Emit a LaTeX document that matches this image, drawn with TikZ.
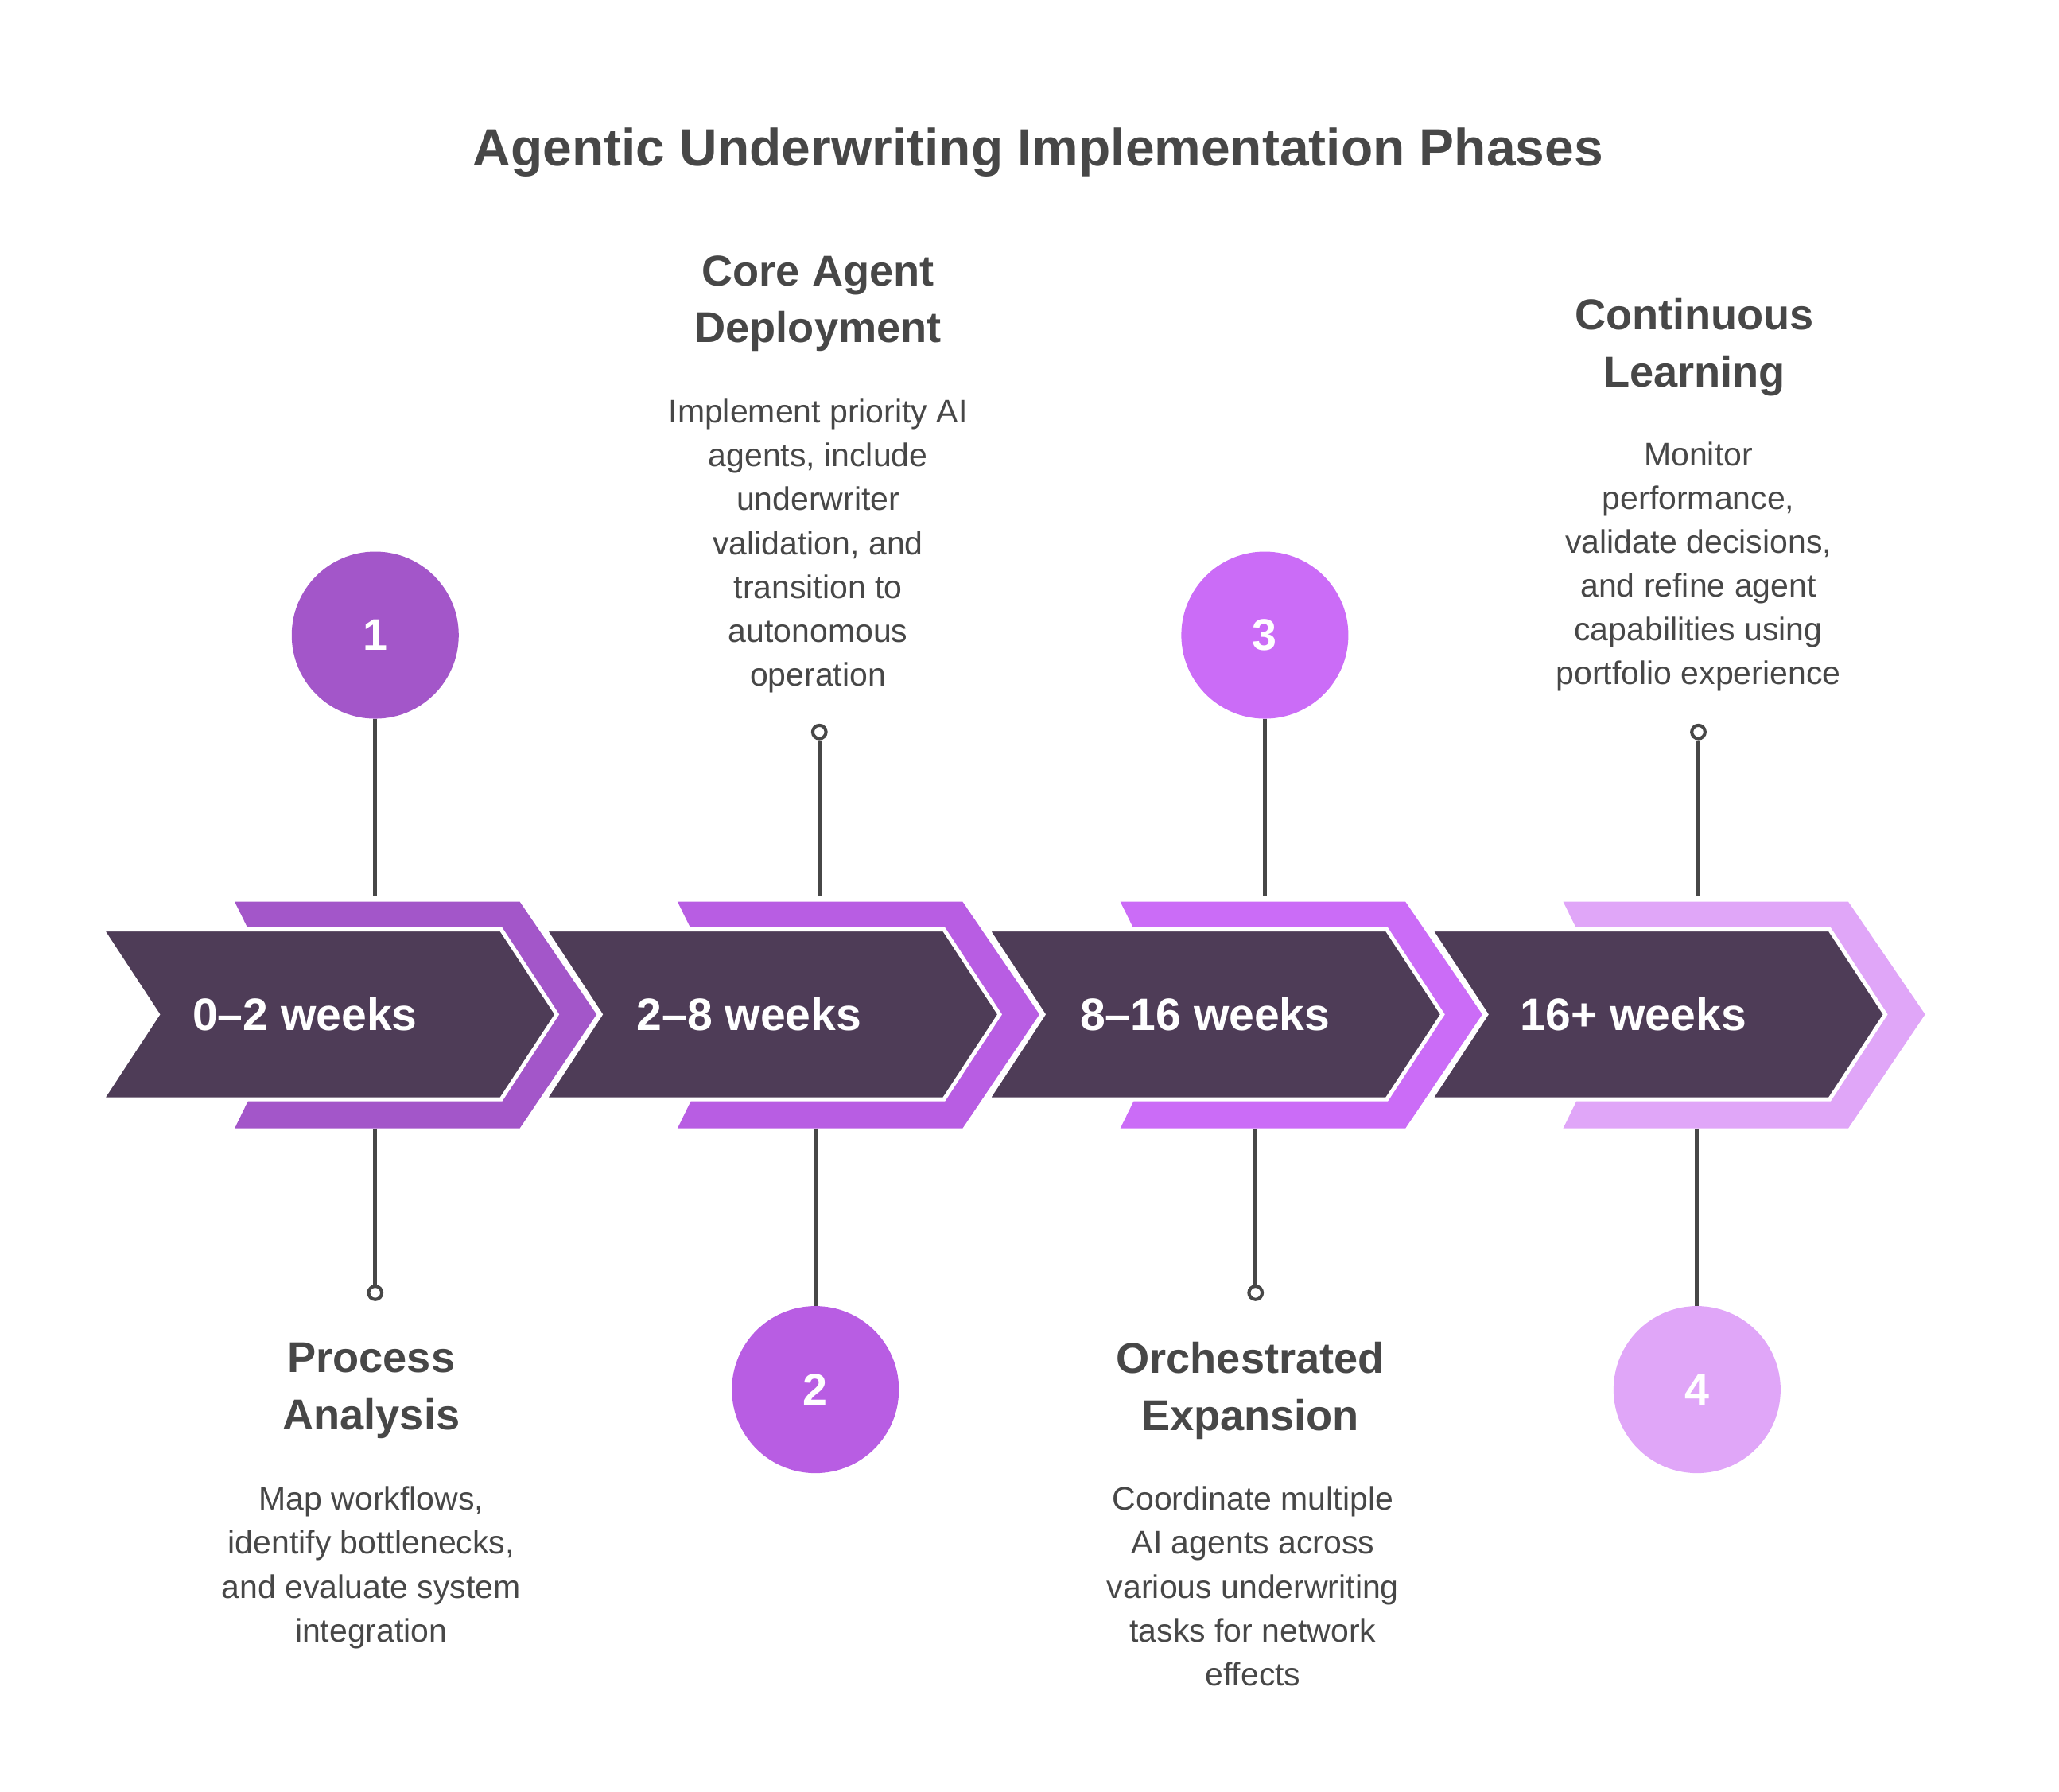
\documentclass[tikz,border=0pt]{standalone}
\usepackage{fontspec}
\setmainfont{Liberation Sans}
\usetikzlibrary{positioning}
\definecolor{pOne}{HTML}{A356C9}
\definecolor{pTwo}{HTML}{B85DE3}
\definecolor{pThree}{HTML}{CB6CF7}
\definecolor{pFour}{HTML}{E0A6F8}
\definecolor{band}{HTML}{4E3C57}
\definecolor{ink}{HTML}{474747}
\begin{document}
\begin{tikzpicture}[x=0.02cm,y=-0.02cm,
		num/.style={circle,minimum size=126*0.02cm,inner sep=0pt,text=white,font=\fontsize{19}{19}\selectfont\bfseries},
		dot/.style={circle,draw=ink,line width=1.4pt,fill=white,minimum size=0.2cm,inner sep=0pt},
		stem/.style={draw=ink,line width=1.7pt},
		head/.style={text=ink,align=center,font=\fontsize{18.5}{24.5}\selectfont\bfseries},
		desc/.style={text=ink,align=center,font=\fontsize{14}{18.8}\selectfont},
		weeks/.style={text=white,font=\fontsize{19.5}{19.5}\selectfont\bfseries}]
		\useasboundingbox (0,0) rectangle (1553,1351);
		\node[text=ink,font=\fontsize{22.5}{22.5}\selectfont\bfseries] (title) at (783,115) {Agentic Underwriting Implementation Phases};
		% coloured chevrons behind
		\foreach \i/\c in {0/pOne,1/pTwo,2/pThree,3/pFour}
			\fill[\c] ({177+334*\i},680) -- ({392+334*\i},680) -- ({450+334*\i},765) -- ({392+334*\i},851)
				-- ({177+334*\i},851) -- ({219+334*\i},765) -- cycle;
		% dark chevrons
		\foreach \i in {0,1,2,3}
			\filldraw[fill=band,draw=white,line width=1.7pt] ({77+334*\i},701) -- ({378+334*\i},701) -- ({420+334*\i},765)
				-- ({378+334*\i},829) -- ({77+334*\i},829) -- ({119+334*\i},765) -- cycle;
		\node[weeks] (wOne) at (230,765) {0–2 weeks};
		\node[weeks] (wTwo) at (565,765) {2–8 weeks};
		\node[weeks] (wThree) at (909,765) {8–16 weeks};
		\node[weeks] (wFour) at (1232,765) {16+ weeks};
		% numbered circles
		\node[num,fill=pOne] (nOne) at (283,479) {1};
		\node[num,fill=pTwo] (nTwo) at (615,1048) {2};
		\node[num,fill=pThree] (nThree) at (954,479) {3};
		\node[num,fill=pFour] (nFour) at (1280,1048) {4};
		\coordinate (tOne) at (283,676);
		\coordinate (bOne) at (283,851);
		\coordinate (tTwo) at (618,676);
		\coordinate (bTwo) at (615,851);
		\coordinate (tThree) at (954,676);
		\coordinate (bThree) at (947,851);
		\coordinate (tFour) at (1281,676);
		\coordinate (bFour) at (1280,851);
		\node[dot] (dOne) at (283,975) {};
		\node[dot] (dTwo) at (618,552) {};
		\node[dot] (dThree) at (947,975) {};
		\node[dot] (dFour) at (1281,552) {};
		\draw[stem] (nOne) -- (tOne);
		\draw[stem] (bOne) -- (dOne);
		\draw[stem] (dTwo) -- (tTwo);
		\draw[stem] (bTwo) -- (nTwo);
		\draw[stem] (nThree) -- (tThree);
		\draw[stem] (bThree) -- (dThree);
		\draw[stem] (dFour) -- (tFour);
		\draw[stem] (bFour) -- (nFour);
		% texts
		\node[head] (hOne) at (280,1049) {Process\\Analysis};
		\node[desc,anchor=north] (xOne) at (280,1115) {Map workflows,\\identify bottlenecks,\\and evaluate system\\integration};
		\node[head] (hTwo) at (617,229) {Core Agent\\Deployment};
		\node[desc,anchor=north] (xTwo) at (617,295) {Implement priority AI\\agents, include\\underwriter\\validation, and\\transition to\\autonomous\\operation};
		\node[head] (hThree) at (943,1049) {Orchestrated\\Expansion};
		\node[desc,anchor=north] (xThree) at (945,1115) {Coordinate multiple\\AI agents across\\various underwriting\\tasks for network\\effects};
		\node[head] (hFour) at (1278,262) {Continuous\\Learning};
		\node[desc,anchor=north] (xFour) at (1281,327) {Monitor\\performance,\\validate decisions,\\and refine agent\\capabilities using\\portfolio experience};
	\end{tikzpicture}
\end{document}
